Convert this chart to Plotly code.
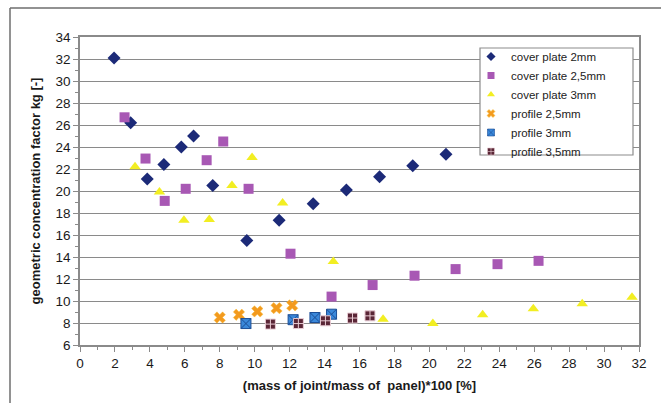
import plotly.graph_objects as go

# ---- data ----
cp2_x = [1.95, 2.9, 3.85, 4.8, 5.8, 6.5, 7.6, 9.55, 11.4, 13.35, 15.25, 17.15, 19.05, 20.95]
cp2_y = [32.1, 26.2, 21.1, 22.4, 24.0, 25.0, 20.5, 15.5, 17.35, 18.85, 20.1, 21.3, 22.3, 23.35]

cp25_x = [2.55, 3.75, 4.85, 6.05, 7.25, 8.2, 9.65, 12.05, 14.4, 16.75, 19.15, 21.5, 23.9, 26.25]
cp25_y = [26.7, 22.95, 19.1, 20.2, 22.8, 24.5, 20.2, 14.3, 10.4, 11.45, 12.3, 12.9, 13.35, 13.65]

cp3_x = [3.15, 4.55, 5.95, 7.4, 8.7, 9.85, 11.6, 14.5, 17.35, 20.2, 23.05, 25.95, 28.75, 31.6]
cp3_y = [22.2, 19.9, 17.35, 17.4, 20.5, 23.05, 18.9, 13.6, 8.35, 7.95, 8.75, 9.3, 9.75, 10.35]

pr25_x = [8.0, 9.1, 10.15, 11.25, 12.15]
pr25_y = [8.5, 8.75, 9.05, 9.35, 9.6]

pr3_x = [9.5, 12.2, 13.45, 14.4]
pr3_y = [7.95, 8.3, 8.5, 8.8]

pr35_x = [10.9, 12.5, 14.05, 15.6, 16.6]
pr35_y = [7.9, 7.95, 8.2, 8.45, 8.65]

names = ["cover plate 2mm", "cover plate 2,5mm", "cover plate 3mm",
         "profile 2,5mm", "profile 3mm", "profile 3,5mm"]

x_ticks = list(range(0, 33, 2))
y_ticks = list(range(6, 35, 2))

FONT = "Liberation Sans, Arial, sans-serif"

series = [
    (cp2_x, cp2_y, dict(symbol="diamond", size=10, color="#1C2A78")),
    (cp25_x, cp25_y, dict(symbol="square", size=10, color="#A858B4")),
    (cp3_x, cp3_y, dict(symbol="triangle-up", size=10, color="#F2EE22")),
    (pr25_x, pr25_y, dict(symbol="x", size=10, color="#F39A1E",
                          line=dict(color="#F6C040", width=0.5))),
    (pr3_x, pr3_y, dict(symbol="square-x", size=10, color="#3A88DA",
                        line=dict(color="#1B4E96", width=1))),
    (pr35_x, pr35_y, dict(symbol="square-cross", size=10, color="#5A2636",
                          line=dict(color="#E8CCD4", width=1))),
]

fig = go.Figure()
for (xs, ys, mk), nm in zip(series, names):
    fig.add_trace(go.Scatter(x=xs, y=ys, mode="markers", name=nm, marker=mk,
                             showlegend=False, legendgroup=nm))
# legend entries (smaller symbols, as in the reference legend)
for (xs, ys, mk), nm in zip(series, names):
    small = dict(mk)
    small["size"] = 7
    if "line" in small:
        small["line"] = dict(small["line"], width=0.6)
    fig.add_trace(go.Scatter(x=[None], y=[None], mode="markers", name=nm, marker=small,
                             showlegend=True, legendgroup=nm))

L, R, T, B = 80, 22, 37, 58
W, H = 661, 403
pw, ph = W - L - R, H - T - B

def px(xp):
    return (xp - L) / pw

def py(yp):
    return (H - B - yp) / ph

shapes = [
    # outer frame (top and left edges visible)
    dict(type="line", xref="paper", yref="paper", x0=px(10), x1=px(700), y0=py(8), y1=py(8),
         line=dict(color="#6E6E6E", width=1.5)),
    dict(type="line", xref="paper", yref="paper", x0=px(10), x1=px(10), y0=py(8), y1=py(450),
         line=dict(color="#6E6E6E", width=1.5)),
    # legend box
    dict(type="rect", xref="paper", yref="paper", x0=px(480), x1=px(633), y0=py(155), y1=py(48),
         fillcolor="white", line=dict(color="#8C8C8C", width=1.2), layer="above"),
]

fig.update_layout(
    width=W, height=H,
    margin=dict(l=L, r=R, t=T, b=B),
    paper_bgcolor="white", plot_bgcolor="white",
    font=dict(family=FONT, size=13.5, color="#1A1A1A"),
    showlegend=True,
    legend=dict(x=px(471), y=py(42), xanchor="left", yanchor="top",
                bgcolor="rgba(0,0,0,0)", borderwidth=0,
                font=dict(family=FONT, size=11.5, color="#222"),
                itemwidth=30, tracegroupgap=0),
    shapes=shapes,
    xaxis=dict(range=[0, 32], tickvals=x_ticks, ticktext=[str(v) for v in x_ticks],
               showgrid=False, zeroline=False,
               showline=True, linecolor="#8A8A8A", linewidth=1.5, mirror=True,
               ticks="outside", ticklen=5, tickcolor="#8A8A8A", tickwidth=1.2,
               minor=dict(dtick=1, tick0=0, ticks="outside", ticklen=3, tickcolor="#8A8A8A"),
               title=dict(text="<b>(mass of joint/mass of  panel)*100 [%]</b>",
                          font=dict(size=13, family=FONT), standoff=11)),
    yaxis=dict(range=[6, 34], tickvals=y_ticks, ticktext=[str(v) for v in y_ticks],
               showgrid=True, gridcolor="#8A8A8A", gridwidth=1.3, zeroline=False,
               showline=True, linecolor="#8A8A8A", linewidth=1.5, mirror=True,
               ticks="outside", ticklen=5, tickcolor="#8A8A8A", tickwidth=1.2,
               minor=dict(dtick=1, tick0=0, ticks="outside", ticklen=3, tickcolor="#8A8A8A"),
               title=dict(text="<b>geometric concentration factor kg [-]</b>",
                          font=dict(size=13, family=FONT), standoff=12)),
)

fig.write_html("out.html")
